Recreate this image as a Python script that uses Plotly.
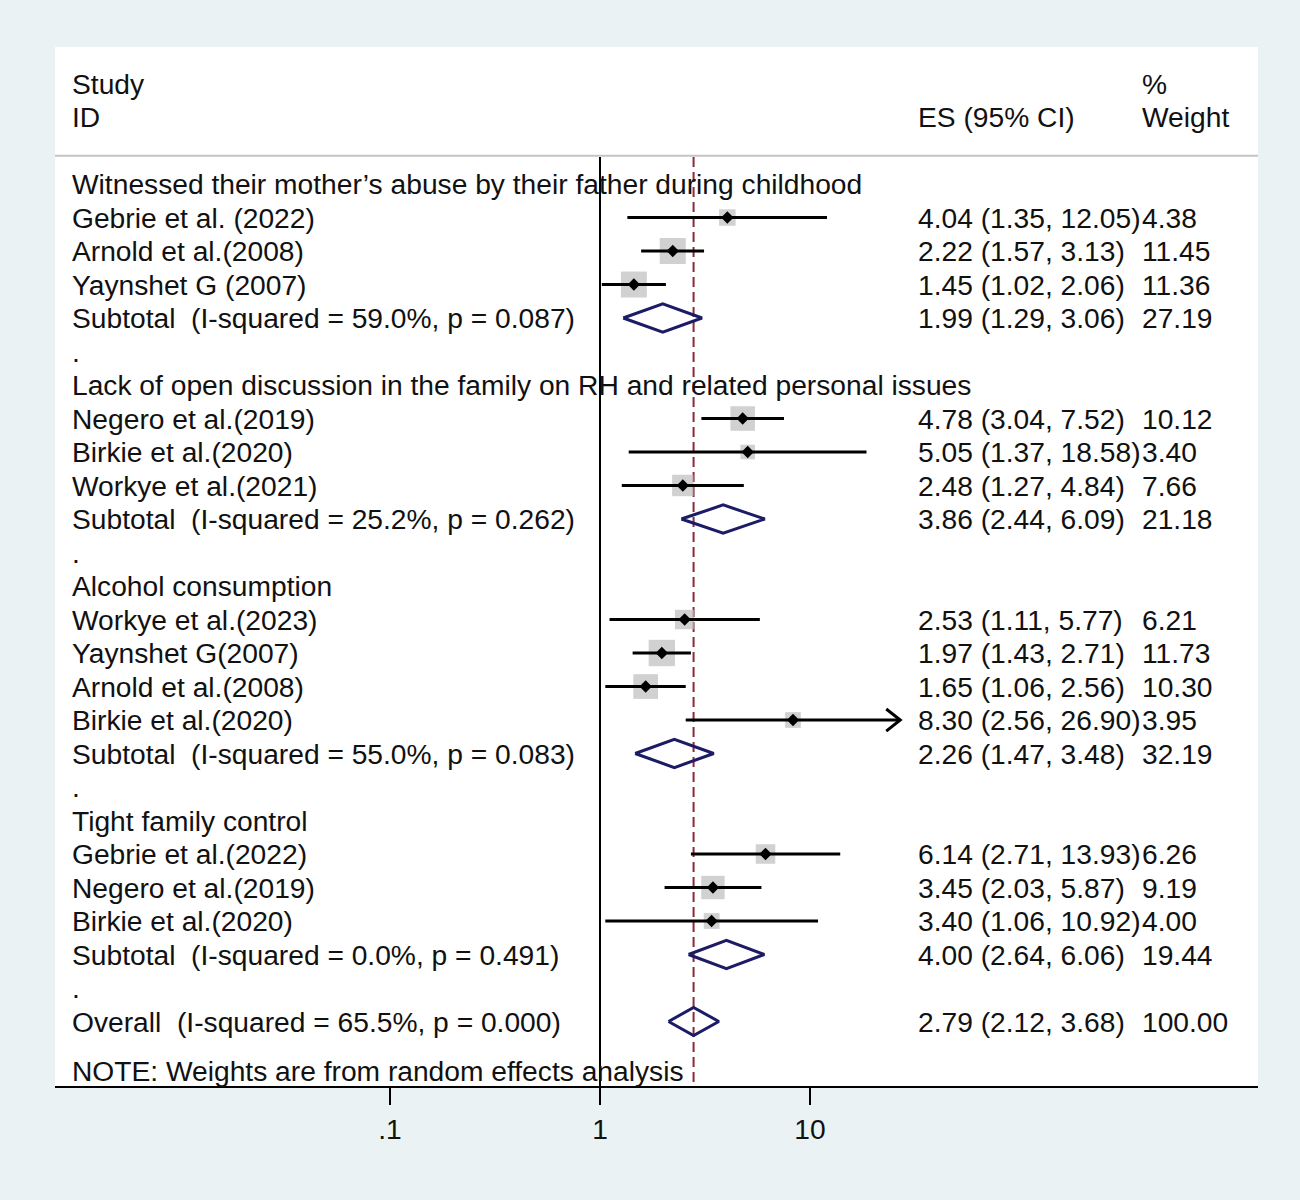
import numpy as np
import plotly.graph_objects as go

# study rows (label, ES, lower, upper, weight)
groups = [
    "Witnessed their mother\u2019s abuse by their father during childhood",
    "Lack of open discussion in the family on RH and related personal issues",
    "Alcohol consumption",
    "Tight family control",
]
study_labels = [
    ["Gebrie et al. (2022)", "Arnold et al.(2008)", "Yaynshet G (2007)"],
    ["Negero et al.(2019)", "Birkie et al.(2020)", "Workye et al.(2021)"],
    ["Workye et al.(2023)", "Yaynshet G(2007)", "Arnold et al.(2008)", "Birkie et al.(2020)"],
    ["Gebrie et al.(2022)", "Negero et al.(2019)", "Birkie et al.(2020)"],
]
study_es = [[4.04, 2.22, 1.45], [4.78, 5.05, 2.48], [2.53, 1.97, 1.65, 8.30], [6.14, 3.45, 3.40]]
study_lo = [[1.35, 1.57, 1.02], [3.04, 1.37, 1.27], [1.11, 1.43, 1.06, 2.56], [2.71, 2.03, 1.06]]
study_hi = [[12.05, 3.13, 2.06], [7.52, 18.58, 4.84], [5.77, 2.71, 2.56, 26.90], [13.93, 5.87, 10.92]]
study_wt = [[4.38, 11.45, 11.36], [10.12, 3.40, 7.66], [6.21, 11.73, 10.30, 3.95], [6.26, 9.19, 4.00]]
study_ci_txt = [
    ["4.04 (1.35, 12.05)", "2.22 (1.57, 3.13)", "1.45 (1.02, 2.06)"],
    ["4.78 (3.04, 7.52)", "5.05 (1.37, 18.58)", "2.48 (1.27, 4.84)"],
    ["2.53 (1.11, 5.77)", "1.97 (1.43, 2.71)", "1.65 (1.06, 2.56)", "8.30 (2.56, 26.90)"],
    ["6.14 (2.71, 13.93)", "3.45 (2.03, 5.87)", "3.40 (1.06, 10.92)"],
]
study_wt_txt = [["4.38", "11.45", "11.36"], ["10.12", "3.40", "7.66"],
                ["6.21", "11.73", "10.30", "3.95"], ["6.26", "9.19", "4.00"]]

# subtotals
sub_labels = [
    "Subtotal  (I-squared = 59.0%, p = 0.087)",
    "Subtotal  (I-squared = 25.2%, p = 0.262)",
    "Subtotal  (I-squared = 55.0%, p = 0.083)",
    "Subtotal  (I-squared = 0.0%, p = 0.491)",
]
sub_es = [1.99, 3.86, 2.26, 4.00]
sub_lo = [1.29, 2.44, 1.47, 2.64]
sub_hi = [3.06, 6.09, 3.48, 6.06]
sub_ci_txt = ["1.99 (1.29, 3.06)", "3.86 (2.44, 6.09)", "2.26 (1.47, 3.48)", "4.00 (2.64, 6.06)"]
sub_wt_txt = ["27.19", "21.18", "32.19", "19.44"]

overall_label = "Overall  (I-squared = 65.5%, p = 0.000)"
overall_es, overall_lo, overall_hi = 2.79, 2.12, 3.68
overall_ci_txt = "2.79 (2.12, 3.68)"
overall_wt_txt = "100.00"
note = "NOTE: Weights are from random effects analysis"

tick_vals = [0.1, 1, 10]
tick_text = [".1", "1", "10"]

FONT = "Liberation Sans, Arial, sans-serif"
FS = 28.2
TXT = "#111111"
NAVY = "#1c1c66"
MAROON = "#8b2a3a"
BG = "#eaf2f3"

ann = []


def txt(x, y, s):
    ann.append(dict(x=x, y=y, xref="paper", yref="y", text=s, showarrow=False,
                    xanchor="left", yanchor="middle",
                    font=dict(family=FONT, size=FS, color=TXT)))


X_LAB, X_ES, X_WT = 0.0125, 0.7157, 0.9015

# header
txt(X_LAB, -3, "Study")
txt(X_LAB, -2, "ID")
txt(X_ES, -2, "ES (95% CI)")
txt(X_WT, -3, "%")
txt(X_WT, -2, "Weight")

row = 0
box_x, box_y, box_s = [], [], []
ci_x, ci_y = [], []
dia_x, dia_y = [], []
for g in range(len(groups)):
    txt(X_LAB, row, groups[g])
    row += 1
    for i in range(len(study_labels[g])):
        txt(X_LAB, row, study_labels[g][i])
        txt(X_ES, row, study_ci_txt[g][i])
        txt(X_WT, row, study_wt_txt[g][i])
        ci_x += [study_lo[g][i], study_hi[g][i], None]
        ci_y += [row, row, None]
        if study_hi[g][i] > 20:
            tip = study_hi[g][i]
            back = tip / 10 ** (14 / 210)
            ci_x += [back, tip, back, None]
            ci_y += [row - 0.33, row, row + 0.33, None]
        box_x.append(study_es[g][i])
        box_y.append(row)
        box_s.append(7.4 * np.sqrt(study_wt[g][i]) + 1)
        row += 1
    txt(X_LAB, row, sub_labels[g])
    txt(X_ES, row, sub_ci_txt[g])
    txt(X_WT, row, sub_wt_txt[g])
    dia_x += [sub_lo[g], sub_es[g], sub_hi[g], sub_es[g], sub_lo[g], None]
    dia_y += [row, row - 0.42, row, row + 0.42, row, None]
    row += 1
    txt(X_LAB, row, ".")
    row += 1

txt(X_LAB, row, overall_label)
txt(X_ES, row, overall_ci_txt)
txt(X_WT, row, overall_wt_txt)
dia_x += [overall_lo, overall_es, overall_hi, overall_es, overall_lo]
dia_y += [row, row - 0.42, row, row + 0.42, row]
txt(X_LAB, row + 1.48, note)

y_top, y_bot = -4.09, 26.925
sep = -0.81

fig = go.Figure()
# null line and overall-effect line
fig.add_trace(go.Scatter(x=[1, 1], y=[sep, y_bot], mode="lines",
                         line=dict(color="black", width=2), hoverinfo="skip"))
fig.add_trace(go.Scatter(x=[overall_es, overall_es], y=[sep, y_bot], mode="lines",
                         line=dict(color=MAROON, width=2, dash="10px,5px"), hoverinfo="skip"))
fig.add_trace(go.Scatter(x=box_x, y=box_y, mode="markers",
                         marker=dict(symbol="square", size=box_s, color="#bdbdbd", line=dict(width=0)),
                         hoverinfo="skip"))
fig.add_trace(go.Scatter(x=ci_x, y=ci_y, mode="lines", connectgaps=False,
                         line=dict(color="black", width=3), hoverinfo="skip"))
fig.add_trace(go.Scatter(x=box_x, y=box_y, mode="markers",
                         marker=dict(symbol="diamond", size=9.5, color="black", line=dict(width=0)),
                         hoverinfo="skip"))
fig.add_trace(go.Scatter(x=dia_x, y=dia_y, mode="lines", connectgaps=False,
                         line=dict(color=NAVY, width=3), hoverinfo="skip"))

# header separator
shapes = [dict(type="line", xref="paper", yref="y", x0=0, x1=1, y0=sep - 0.03, y1=sep - 0.03,
               line=dict(color="#c4c4c4", width=2), layer="below")]

fig.update_layout(
    width=1300, height=1200,
    margin=dict(l=55, r=42, t=47, b=114),
    paper_bgcolor=BG, plot_bgcolor="white",
    showlegend=False,
    annotations=ann, shapes=shapes,
    xaxis=dict(type="log", range=[-(600 - 55) / 210, (1258 - 600) / 210],
               tickvals=tick_vals, ticktext=tick_text, ticks="outside", ticklen=17,
               tickwidth=2, tickcolor="black", showline=True, linecolor="black", linewidth=2,
               showgrid=False, zeroline=False,
               tickfont=dict(family=FONT, size=FS, color=TXT)),
    yaxis=dict(range=[y_bot, y_top], visible=False, showgrid=False, zeroline=False),
)

fig.write_html("out.html", config={"displayModeBar": False},
               post_script="document.body.style.margin='0';document.body.style.background='%s';" % BG)
